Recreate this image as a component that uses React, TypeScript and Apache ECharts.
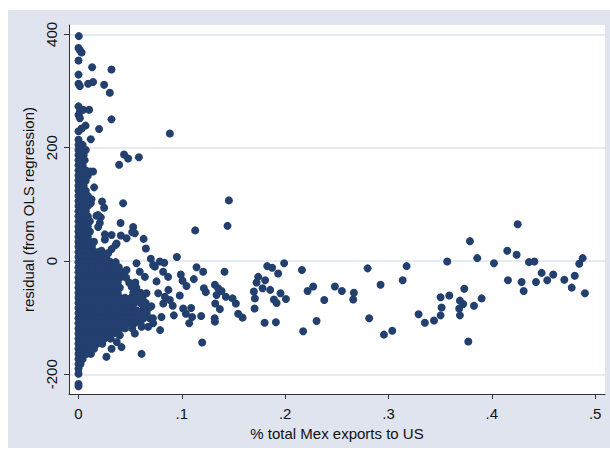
import React, { useEffect, useRef } from "react";
import * as echarts from "echarts";

const xTicks = [0, 0.1, 0.2, 0.3, 0.4, 0.5];
const yTicks = [-200, 0, 200, 400];
const xTitle = "% total Mex exports to US";
const yTitle = "residual (from OLS regression)";

const upperTail: number[][] = [
  [0.0003, 397], [0, 376], [0.0013, 372], [0.003, 368], [0, 354], [0.0132, 342], [0.0319, 338],
  [0, 329], [0, 313], [0.0013, 309], [0.0093, 313], [0.0141, 316], [0.0248, 311], [0.0303, 297],
  [0, 273], [0.0013, 264], [0, 258], [0.0045, 267], [0.0103, 267], [0.0013, 252], [0.0319, 250],
  [0.0199, 233], [0.0068, 239], [0.003, 234], [0, 229], [0.0119, 215], [0, 214], [0.003, 205],
  [0.0884, 225], [0.0441, 188], [0.048, 181], [0.0584, 183], [0.0393, 170], [0.0141, 158],
  [0.006, 152], [0.011, 158], [0.0151, 130], [0.0126, 109], [0.0119, 102], [0.0228, 105],
  [0.0248, 94], [0.0432, 102], [0.0174, 80], [0.0216, 77], [0.019, 81], [0.0206, 67], [0.019, 60],
  [0.0407, 67], [0.0529, 60],
];

const coreRows: [number, number[]][] = [
  [205, [0, 0.004]],
  [196, [0, 0.003, 0.007]],
  [187, [0, 0.005]],
  [178, [0, 0.003, 0.006]],
  [169, [0, 0.004]],
  [160, [0, 0.003, 0.007]],
  [151, [0, 0.005, 0.009]],
  [142, [0, 0.003, 0.007]],
  [133, [0, 0.005]],
  [124, [0, 0.003, 0.007]],
  [115, [0, 0.005, 0.009]],
  [106, [0, 0.003, 0.007]],
  [97, [0, 0.005, 0.009]],
  [88, [0, 0.003, 0.007]],
  [79, [0, 0.005, 0.009]],
  [70, [0, 0.003, 0.007, 0.011]],
  [61, [0, 0.005, 0.009]],
  [52, [0, 0.003, 0.007, 0.011]],
  [43, [0, 0.005, 0.009]],
  [34, [0, 0.003, 0.007, 0.011, 0.015]],
  [25, [0, 0.005, 0.009, 0.013]],
  [16, [0, 0.003, 0.007, 0.011, 0.016, 0.02]],
  [7, [0, 0.005, 0.009, 0.013, 0.018, 0.023, 0.027]],
  [-2, [0, 0.003, 0.007, 0.011, 0.016, 0.021, 0.026, 0.031, 0.036]],
  [-11, [0, 0.005, 0.009, 0.014, 0.019, 0.024, 0.029, 0.034, 0.039]],
  [-20, [0, 0.003, 0.008, 0.013, 0.018, 0.023, 0.028, 0.033, 0.038, 0.043]],
  [-29, [0, 0.005, 0.01, 0.015, 0.02, 0.025, 0.03, 0.035, 0.04, 0.046]],
  [-38, [0, 0.003, 0.008, 0.013, 0.018, 0.023, 0.028, 0.033, 0.038, 0.049, 0.055]],
  [-47, [0, 0.005, 0.01, 0.015, 0.02, 0.025, 0.03, 0.035, 0.04, 0.056]],
  [-56, [0, 0.003, 0.008, 0.013, 0.018, 0.023, 0.028, 0.033, 0.038, 0.053, 0.06]],
  [-65, [0, 0.005, 0.01, 0.015, 0.02, 0.025, 0.03, 0.035, 0.04, 0.045, 0.051, 0.057, 0.062]],
  [-74, [0, 0.003, 0.008, 0.013, 0.018, 0.023, 0.028, 0.033, 0.038, 0.043, 0.048, 0.054, 0.06, 0.065]],
  [-83, [0, 0.005, 0.01, 0.015, 0.02, 0.025, 0.03, 0.035, 0.04, 0.045, 0.051, 0.063, 0.068]],
  [-92, [0, 0.003, 0.008, 0.013, 0.018, 0.023, 0.028, 0.033, 0.038, 0.043, 0.048, 0.054, 0.06, 0.066]],
  [-101, [0, 0.005, 0.01, 0.015, 0.02, 0.025, 0.03, 0.035, 0.04, 0.045, 0.051, 0.057, 0.063, 0.072]],
  [-110, [0, 0.003, 0.008, 0.013, 0.018, 0.023, 0.028, 0.033, 0.038, 0.043, 0.048, 0.054, 0.06]],
  [-119, [0, 0.005, 0.01, 0.015, 0.02, 0.025, 0.03, 0.035, 0.04, 0.045, 0.052]],
  [-128, [0, 0.003, 0.008, 0.013, 0.018, 0.023, 0.028, 0.033, 0.038]],
  [-137, [0, 0.005, 0.01, 0.015, 0.02, 0.025, 0.031]],
  [-146, [0, 0.003, 0.008, 0.013, 0.018, 0.023]],
  [-155, [0, 0.005, 0.01, 0.015]],
  [-164, [0, 0.003, 0.008, 0.012]],
  [-173, [0, 0.004]],
  [-182, [0, 0.002]],
];

const nearCluster: number[][] = [
  [0.0519, 51], [0.0545, 49], [0.0255, 47], [0.032, 46], [0.041, 45], [0.0465, 40], [0.063, 39],
  [0.0255, 38], [0.0368, 31], [0.0358, 28], [0.0652, 22], [0.032, 21], [0.0223, 18], [0.0287, 14],
  [0.07, 4], [0.0952, 7], [0.0561, -4], [0.0722, -7], [0.0787, -1], [0.083, -3], [0.0593, -19],
  [0.0642, -28], [0.0465, -16], [0.0739, -10], [0.0819, -19], [0.0867, -28], [0.0755, -36],
  [0.0513, -45], [0.0658, -57], [0.0771, -57], [0.087, -51], [0.098, -61], [0.0836, -63],
  [0.0705, -80], [0.082, -75], [0.0884, -69], [0.0912, -79], [0.0561, -87], [0.069, -101],
  [0.0803, -99], [0.0722, -110], [0.079, -122], [0.0923, -96], [0.0497, -110], [0.061, -116],
  [0.0674, -116], [0.0545, -128], [0.04, -131], [0.037, -143], [0.032, -155], [0.0416, -152],
  [0.027, -169], [0.061, -164],
];

const midRange: number[][] = [
  [0.1455, 107], [0.1442, 62], [0.1129, 54], [0.099, -24], [0.1007, -35], [0.1045, -44],
  [0.1116, -32], [0.1142, -11], [0.1206, -19], [0.1013, -84], [0.1039, -93], [0.109, -83],
  [0.11, -99], [0.1071, -110], [0.1187, -97], [0.1197, -144], [0.1213, -48], [0.1232, -55],
  [0.132, -42], [0.1351, -48], [0.1384, -53], [0.1336, -60], [0.1426, -63], [0.1323, -75],
  [0.1368, -85], [0.1491, -66], [0.1523, -75], [0.1545, -93], [0.1588, -100], [0.132, -107],
  [0.1317, -101], [0.1413, -19], [0.1739, -28], [0.1723, -38], [0.1697, -54], [0.1707, -66],
  [0.1704, -84], [0.1826, -9], [0.1874, -12], [0.1806, -34], [0.1781, -48], [0.1932, -22],
  [0.199, -4], [0.1855, -51], [0.1955, -57], [0.1891, -68], [0.1917, -74], [0.1801, -109],
  [0.191, -108],
];

const farRange: number[][] = [
  [0.2007, -67], [0.2162, -16], [0.2217, -53], [0.2271, -45], [0.2378, -69], [0.2304, -106],
  [0.2174, -124], [0.2481, -45], [0.2549, -53], [0.2665, -56], [0.2658, -68], [0.2798, -13],
  [0.2923, -42], [0.2813, -101], [0.2956, -130], [0.3036, -123], [0.3175, -9], [0.3137, -34],
  [0.3291, -94], [0.3352, -109], [0.344, -105], [0.3504, -96], [0.3514, -82], [0.3504, -64],
  [0.3588, -61], [0.3568, -1], [0.3788, 35], [0.3859, 5], [0.3733, -49], [0.3691, -70],
  [0.3723, -76], [0.3684, -84], [0.3691, -96], [0.3827, -79], [0.3901, -66], [0.3772, -142],
  [0.402, -4], [0.4149, 18], [0.424, 11], [0.425, 65], [0.4156, -34], [0.4288, -37],
  [0.4308, -53], [0.4359, -2], [0.4411, -1], [0.4427, -37], [0.4482, -21], [0.4536, -34],
  [0.4594, -24], [0.4701, -33], [0.4773, -47], [0.4802, -26], [0.4846, -5], [0.4879, 5],
  [0.4901, -57],
];

const lowerTail: number[][] = [
  [0, -190], [0, -199], [0, -217], [0, -221],
];

const TEXT = "#111";
const AXIS = "#333";
const FONT = "'Liberation Sans', Arial, Helvetica, sans-serif";

export default function App() {
  const ref = useRef<HTMLDivElement>(null);
  useEffect(() => {
    const chart = echarts.init(ref.current as HTMLDivElement, null, { renderer: "svg" });
    const core = coreRows.flatMap(([y, xs]) => xs.map((x) => [x, y]));
    const data = [...upperTail, ...core, ...nearCluster, ...midRange, ...farRange, ...lowerTail];
    chart.setOption({
      animation: false,
      backgroundColor: "#dfe4ee",
      textStyle: { fontFamily: FONT },
      grid: {
        left: 61, right: 5, top: 15, bottom: 54,
        show: true, backgroundColor: "#ffffff", borderWidth: 0,
      },
      xAxis: {
        type: "value",
        min: -0.0092,
        max: 0.5095,
        name: xTitle,
        nameLocation: "middle",
        nameGap: 27,
        nameTextStyle: { fontSize: 15, color: TEXT, fontFamily: FONT },
        axisLine: { show: true, onZero: false, lineStyle: { color: AXIS, width: 1 } },
        axisTick: { show: true, customValues: xTicks, length: 5, lineStyle: { color: AXIS } },
        axisLabel: {
          customValues: xTicks,
          fontSize: 15,
          color: TEXT,
          fontFamily: FONT,
          margin: 12,
          formatter: (v: number) => (v === 0 ? "0" : String(v).replace(/^0\./, ".")),
        },
        splitLine: { show: false },
      },
      yAxis: {
        type: "value",
        min: -234.8,
        max: 416.6,
        name: yTitle,
        nameLocation: "middle",
        nameGap: 25,
        nameRotate: 90,
        nameTextStyle: { fontSize: 15, color: TEXT, fontFamily: FONT },
        axisLine: { show: true, onZero: false, lineStyle: { color: AXIS, width: 1 } },
        axisTick: { show: true, customValues: yTicks, length: 5, lineStyle: { color: AXIS } },
        axisLabel: {
          customValues: yTicks,
          rotate: 90,
          fontSize: 15,
          color: TEXT,
          fontFamily: FONT,
          margin: 10,
          formatter: (v: number) => String(v),
        },
        splitLine: { show: true, lineStyle: { color: "#dde4ef", width: 1.5 } },
      },
      series: [
        {
          type: "scatter",
          data,
          symbol: "circle",
          symbolSize: 8,
          itemStyle: { color: "#223f6e", opacity: 1 },
          silent: true,
        },
      ],
    });
    return () => chart.dispose();
  }, []);
  return (
    <div
      ref={ref}
      style={{ position: "absolute", left: 8, top: 10, width: 602, height: 438 }}
    />
  );
}
